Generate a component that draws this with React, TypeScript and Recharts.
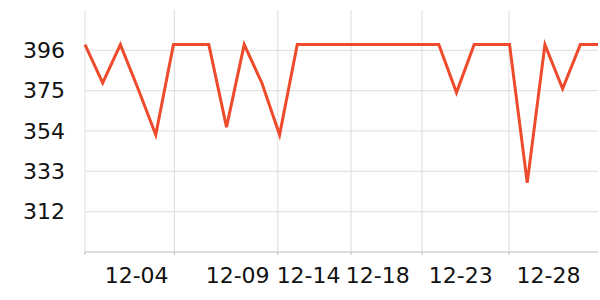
import React from "react";
import {
  LineChart,
  Line,
  XAxis,
  YAxis,
  CartesianGrid,
  ReferenceLine,
} from "recharts";

// one reading per step, left to right
const values = [
  399, 379, 399, 376, 352, 399, 399, 399, 356, 399, 379, 352, 399, 399, 399,
  399, 399, 399, 399, 399, 399, 374, 399, 399, 399, 327, 399, 376, 399, 399,
];

// positions (in step units) of the vertical grid lines / ticks
const gridTicks = [0, 5.05, 10.9, 15.04, 19.05, 23.97];

// date labels and where they sit along the axis
const dateLabels = ["12-04", "12-09", "12-14", "12-18", "12-23", "12-28"];
const labelTicks = [2.92, 8.63, 12.64, 16.55, 21.24, 26.2];

const yTicks = [312, 333, 354, 375, 396];

const chartData = values.map((v, i) => ({ idx: i, value: v }));

const font = "DejaVu Sans";

const NoLabel = () => <g />;

const App: React.FC = () => {
  return (
    <div style={{ position: "absolute", left: 0, top: 0 }}>
      <LineChart
        width={600}
        height={300}
        data={chartData}
        margin={{ top: 10, right: 2, left: 0, bottom: 0 }}
      >
        <CartesianGrid
          stroke="#dddddd"
          strokeWidth={1}
          vertical={false}
          horizontalValues={yTicks}
        />
        {gridTicks.map((t) => (
          <ReferenceLine key={t} x={t} stroke="#dddddd" strokeWidth={1} />
        ))}
        <XAxis
          dataKey="idx"
          type="number"
          domain={[0, values.length - 1]}
          ticks={gridTicks}
          interval={0}
          height={1}
          tick={NoLabel}
          tickSize={3}
          axisLine={{ stroke: "#bbbbbb" }}
          tickLine={{ stroke: "#bbbbbb" }}
        />
        <XAxis
          xAxisId="labels"
          dataKey="idx"
          type="number"
          domain={[0, values.length - 1]}
          ticks={labelTicks}
          interval={0}
          height={47}
          axisLine={false}
          tickLine={false}
          tickSize={6}
          tickMargin={8}
          tickFormatter={(v: number) => dateLabels[labelTicks.indexOf(v)] ?? ""}
          tick={{ fill: "#111", fontSize: 22, fontFamily: font }}
        />
        <YAxis
          domain={[291, 417]}
          ticks={yTicks}
          width={85}
          interval={0}
          axisLine={false}
          tickLine={false}
          tickSize={0}
          tickMargin={20}
          tick={{ fill: "#111", fontSize: 22, fontFamily: font }}
        />
        <Line
          type="linear"
          dataKey="value"
          stroke="#ee4a2c"
          strokeWidth={3}
          dot={false}
          isAnimationActive={false}
        />
      </LineChart>
    </div>
  );
};

export default App;
